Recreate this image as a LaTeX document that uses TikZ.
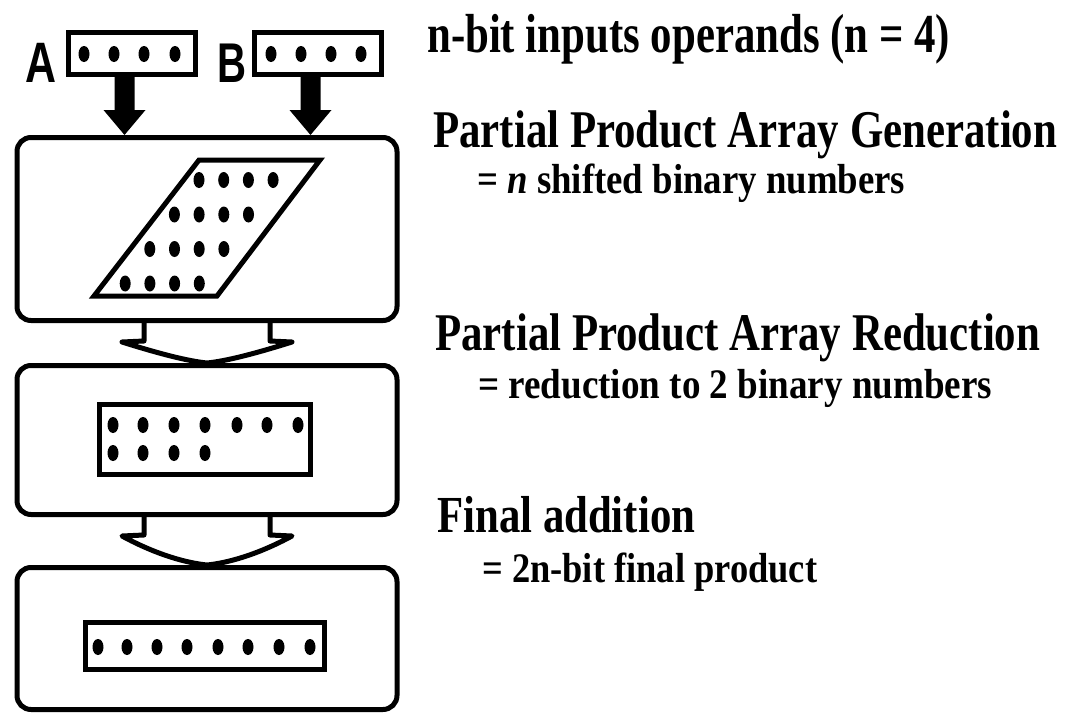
\documentclass[tikz,border=0pt]{standalone}
\usepackage{fontspec}
\usepackage{graphicx}
\setmainfont{Liberation Serif}
\newfontfamily\labfont{Liberation Sans}
\usetikzlibrary{calc}
\newcommand{\fitw}[3]{\resizebox{#1pt}{\height}{\fontsize{#2}{#2}\selectfont\bfseries #3}}
\newcommand{\labw}[3]{\resizebox{#1pt}{\height}{\fontsize{#2}{#2}\selectfont\labfont\bfseries #3}}
\newcommand{\hollowarrow}[2]{%
  \draw[hollow] ($(#1.south)+(-63,0)$) -- ($(#1.south)+(-63,18)$) -- ($(#1.south)+(-85,19)$)
    .. controls ($(#2.north)+(-50,-10)$) and ($(#2.north)+(-20,-2)$) .. (#2.north)
    .. controls ($(#2.north)+(20,-2)$) and ($(#2.north)+(50,-10)$) .. ($(#1.south)+(85,19)$)
    -- ($(#1.south)+(63,18)$) -- ($(#1.south)+(63,0)$);}
\newcommand{\blockarrow}[2]{%
  \coordinate (#1s) at ([xshift=-7pt]#1.south);
  \coordinate (#1t) at (#1s |- #2.north);
  \coordinate (#1h) at ($(#1t)+(0,-25)$);
  \fill[solidarrow] (#1t) -- ($(#1h)+(-21,0)$) -- ($(#1h)+(-10,0)$) -- ($(#1s)+(-10,0)$)
    -- ($(#1s)+(10,0)$) -- ($(#1h)+(10,0)$) -- ($(#1h)+(21,0)$) -- cycle;}
\begin{document}
\begin{tikzpicture}[x=1pt,y=-1pt,
  inbox/.style={draw, line width=5pt, minimum width=127pt, minimum height=42pt, inner sep=0pt},
  stage/.style={draw, line width=5pt, rounded corners=14pt, minimum width=380pt, inner sep=0pt},
  reg/.style={draw, line width=5pt, inner sep=0pt},
  hollow/.style={draw, line width=5pt, line join=round},
  solidarrow/.style={fill=black, line join=round},
  bitdot/.style={fill=black},
  txt/.style={anchor=base west, inner sep=0pt}]
\useasboundingbox (0,0) rectangle (1066,715);

% input operands
\node[inbox] (inA) at (131.5,53.5) {};
\node[inbox] (inB) at (317.5,53.5) {};
\node[txt] (labA) at (25,82) {\labw{31}{57}{A}};
\node[txt] (labB) at (217,82) {\labw{29}{56}{B}};
\foreach \x in {84,114,144,175} \fill[bitdot] (\x,54) ellipse [x radius=5.5, y radius=8];
\foreach \x in {271,301,331,361} \fill[bitdot] (\x,54) ellipse [x radius=5.5, y radius=8];

% stages
\node[stage, minimum height=183pt] (stage1) at (207,229) {};
\node[stage, minimum height=149pt] (stage2) at (207,440) {};
\node[stage, minimum height=142pt] (stage3) at (207,638.5) {};

% partial product parallelogram
\draw[line width=5pt, line join=miter] (94,296) -- (217,296) -- (320,160) -- (199,160) -- cycle;
\foreach \r in {0,1,2,3} {
  \foreach \c in {0,1,2,3} {
    \fill[bitdot] ({199-24.6*\r+24.7*\c},{180+34.5*\r}) ellipse [x radius=5.5, y radius=8];
  }
}

% reduction register
\node[reg, minimum width=211pt, minimum height=70pt] (reg2) at (205,439.5) {};
\foreach \x in {113,143,174,205,237,267,298} \fill[bitdot] (\x,425) ellipse [x radius=5.5, y radius=8];
\foreach \x in {113,143,174,205} \fill[bitdot] (\x,453) ellipse [x radius=5.5, y radius=8];

% final product register
\node[reg, minimum width=239pt, minimum height=47pt] (reg3) at (205,646) {};
\foreach \x in {98,127,157,187,218,248,279,310} \fill[bitdot] (\x,647) ellipse [x radius=5.5, y radius=8];

% connectors
\blockarrow{inA}{stage1}
\blockarrow{inB}{stage1}
\hollowarrow{stage1}{stage2}
\hollowarrow{stage2}{stage3}

% texts
\node[txt] (t1) at (427,52) {\fitw{523}{55}{n-bit inputs operands (n = 4)}};
\node[txt] (t2) at (433,147) {\fitw{624}{53}{Partial Product Array Generation}};
\node[txt] (t3) at (477,193) {\fitw{428}{42}{= {\itshape n} shifted binary numbers}};
\node[txt] (t4) at (435,350) {\fitw{605}{53}{Partial Product Array Reduction}};
\node[txt] (t5) at (478,398) {\fitw{514}{42}{= reduction to 2 binary numbers}};
\node[txt] (t6) at (437,532) {\fitw{258}{52}{Final addition}};
\node[txt] (t7) at (482,582) {\fitw{335}{42}{= 2n-bit final product}};
\end{tikzpicture}
\end{document}
